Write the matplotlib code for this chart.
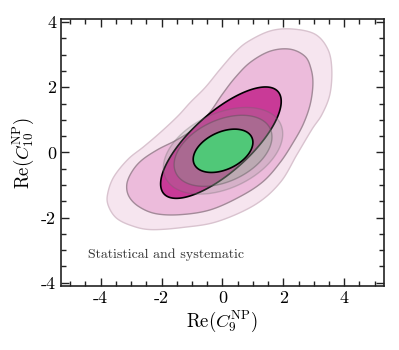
import numpy as np
import matplotlib
matplotlib.use("Agg")
import matplotlib.pyplot as plt
from matplotlib.ticker import MultipleLocator, FixedLocator, FixedFormatter

plt.rcParams['mathtext.fontset'] = 'cm'
plt.rcParams['font.family'] = ['cmr10', 'DejaVu Serif']
plt.rcParams['axes.unicode_minus'] = False

# ---- data ----
# outer pink region (3 sigma) boundary
pink3_x = [2.29, 3.04, 3.46, 3.59, 3.53, 3.27, 2.94, 2.45, 1.90, 1.08, -0.16, -1.27, -2.35, -3.01,
           -3.50, -3.76, -3.76, -3.56, -3.10, -2.58, -2.03, -1.47, -1.05, -0.56, -0.07, 0.42, 0.85, 1.57]
pink3_y = [3.79, 3.63, 3.17, 2.56, 1.79, 1.17, 0.71, -0.06, -0.92, -1.60, -2.12, -2.30, -2.37, -2.24,
           -2.00, -1.60, -1.23, -0.74, -0.21, 0.18, 0.62, 1.11, 1.54, 2.00, 2.56, 3.08, 3.41, 3.73]
# middle pink region (2 sigma) boundary
pink2_x = [2.22, 2.71, 2.91, 2.97, 2.88, 2.65, 2.32, 1.90, 1.34, 0.59, -0.39, -1.37, -2.19, -2.75,
           -3.07, -3.14, -2.97, -2.65, -2.12, -1.47, -0.82, -0.39, 0.00, 0.42, 0.92, 1.57]
pink2_y = [3.17, 2.95, 2.56, 2.09, 1.47, 0.86, 0.30, -0.30, -0.89, -1.35, -1.76, -1.91, -1.88, -1.66,
           -1.35, -0.98, -0.59, -0.24, 0.09, 0.40, 0.80, 1.26, 1.79, 2.30, 2.77, 3.11]
# inner pink region (1 sigma): centre, half-extents, correlation
pink1_center = (-0.05, 0.30)
pink1_extent = (1.98, 1.71)
pink1_rho = 0.74
# green fit: centre, 1 sigma half-extents, correlation, contour scale factors
green_center = (0.02, 0.05)
green_extent = (0.98, 0.665)
green_rho = 0.39
green_scales = [2.0, 1.64, 1.0]

xticks = [-4, -2, 0, 2, 4]
yticks = [-4, -2, 0, 2, 4]
xticklabels = ['-4', '-2', '0', '2', '4']
yticklabels = ['-4', '-2', '0', '2', '4']
note = 'Statistical and systematic'


def closed_spline(xs, ys, n=30):
    p = np.column_stack([xs, ys])
    m = len(p)
    out = []
    for i in range(m):
        p0, p1, p2, p3 = p[(i - 1) % m], p[i], p[(i + 1) % m], p[(i + 2) % m]
        t = np.linspace(0, 1, n, endpoint=False)[:, None]
        seg = 0.5 * ((2 * p1) + (-p0 + p2) * t + (2 * p0 - 5 * p1 + 4 * p2 - p3) * t ** 2
                     + (-p0 + 3 * p1 - 3 * p2 + p3) * t ** 3)
        out.append(seg)
    out = np.vstack(out)
    out = np.vstack([out, out[:1]])
    return out[:, 0], out[:, 1]


def ellipse(center, extent, rho, scale=1.0, n=300):
    ax_, ay_ = extent
    C = np.array([[ax_ ** 2, rho * ax_ * ay_], [rho * ax_ * ay_, ay_ ** 2]])
    L = np.linalg.cholesky(C)
    t = np.linspace(0, 2 * np.pi, n)
    pts = (L @ np.vstack([np.cos(t), np.sin(t)])) * scale
    return pts[0] + center[0], pts[1] + center[1]


fig = plt.figure(figsize=(3.99, 3.5), dpi=100)
ax = fig.add_axes([0.153, 0.183, 0.809, 0.763])

x3, y3 = closed_spline(pink3_x, pink3_y)
ax.fill(x3, y3, facecolor='#f6e5ef', edgecolor='#d9c3cf', lw=1.0, zorder=1)
x2, y2 = closed_spline(pink2_x, pink2_y)
ax.fill(x2, y2, facecolor='#ecbbdb', edgecolor='#a38a99', lw=1.0, zorder=2)
x1, y1 = ellipse(pink1_center, pink1_extent, pink1_rho)
ax.fill(x1, y1, facecolor='#c93a97', edgecolor='black', lw=1.2, zorder=3)

# green: outer rings translucent grey, inner solid green
gx, gy = ellipse(green_center, green_extent, green_rho, green_scales[0])
ax.fill(gx, gy, facecolor=(0.55, 0.57, 0.55, 0.22), edgecolor=(0.4, 0.4, 0.4, 0.3), lw=1.0, zorder=4)
gx, gy = ellipse(green_center, green_extent, green_rho, green_scales[1])
ax.fill(gx, gy, facecolor=(0.55, 0.62, 0.55, 0.35), edgecolor=(0.3, 0.3, 0.3, 0.4), lw=1.0, zorder=5)
gx, gy = ellipse(green_center, green_extent, green_rho, green_scales[2])
ax.fill(gx, gy, facecolor='#50c878', edgecolor='black', lw=1.2, zorder=6)

ax.text(-4.4, -3.15, note, fontsize=10, color='#333333', ha='left', va='center', zorder=7)

ax.set_xlim(-5.3, 5.3)
ax.set_ylim(-4.1, 4.1)
ax.xaxis.set_major_locator(FixedLocator(xticks))
ax.xaxis.set_major_formatter(FixedFormatter(xticklabels))
ax.yaxis.set_major_locator(FixedLocator(yticks))
ax.yaxis.set_major_formatter(FixedFormatter(yticklabels))
ax.xaxis.set_minor_locator(MultipleLocator(0.5))
ax.yaxis.set_minor_locator(MultipleLocator(0.5))
ax.tick_params(which='both', direction='in', top=True, right=True, labelsize=13, width=1.0, color='#222222')
ax.tick_params(which='major', length=6)
ax.tick_params(which='minor', length=3.5)
for s in ax.spines.values():
    s.set_linewidth(1.2)
    s.set_color('#222222')

ax.set_xlabel(r'$\mathrm{Re}(C_9^{\mathrm{NP}})$', fontsize=13.5, labelpad=2)
ax.set_ylabel(r'$\mathrm{Re}(C_{10}^{\mathrm{NP}})$', fontsize=13.5, labelpad=4)

fig.savefig('out.png', dpi=100)
